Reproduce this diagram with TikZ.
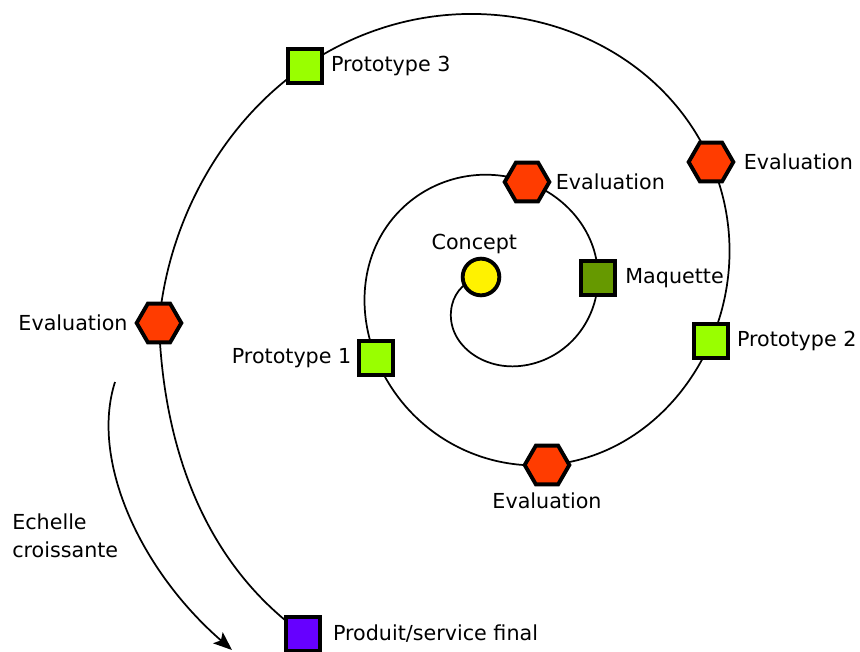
\documentclass[tikz,border=0pt]{standalone}
\usepackage{fontspec}
\setmainfont{DejaVu Sans}
\usetikzlibrary{hobby}
\usetikzlibrary{shapes.geometric}
\usetikzlibrary{arrows.meta}
\usetikzlibrary{positioning}
\usetikzlibrary{backgrounds}
\definecolor{evalred}{RGB}{255,60,0}
\definecolor{protogreen}{RGB}{153,255,0}
\definecolor{maqgreen}{RGB}{102,153,0}
\definecolor{finalpurple}{RGB}{102,0,255}
\tikzset{
  etape/.style={draw=black, line width=2.9pt},
  hexa/.style={etape, regular polygon, regular polygon sides=6, minimum size=33.5pt, inner sep=0pt, fill=evalred},
  carre/.style={etape, rectangle, minimum size=25.8pt, inner sep=0pt},
  txt/.style={inner sep=0pt, font=\fontsize{15.5}{21}\selectfont},
}

\begin{document}
\begin{tikzpicture}[x=0.75pt,y=-0.75pt]
        \useasboundingbox (0,0) rectangle (860,652);
        \node[etape, circle, minimum size=27.5pt, fill=yellow] (concept) at (481,277) {};
        \node[carre, fill=maqgreen] (maquette) at (598,278) {};
        \node[hexa] (eval1) at (527,182) {};
        \node[carre, fill=protogreen] (proto1) at (376,358) {};
        \node[hexa] (eval2) at (547,465) {};
        \node[carre, fill=protogreen] (proto2) at (711,341) {};
        \node[hexa] (eval3) at (711,162) {};
        \node[carre, fill=protogreen] (proto3) at (305,66) {};
        \node[hexa] (eval4) at (159,323) {};
        \node[carre, fill=finalpurple] (final) at (303,634) {};
        \node[txt, above=2pt of concept, xshift=-5pt] (concepttxt) {Concept};
        \node[txt, right=3pt of eval1] (eval1txt) {Evaluation};
        \node[txt, right=6pt of maquette] (maquettetxt) {Maquette};
        \node[txt, left=4pt of proto1] (proto1txt) {Prototype 1};
        \node[txt, below=5pt of eval2] (eval2txt) {Evaluation};
        \node[txt, right=5pt of proto2] (proto2txt) {Prototype 2};
        \node[txt, right=6pt of eval3] (eval3txt) {Evaluation};
        \node[txt, right=5pt of proto3] (proto3txt) {Prototype 3};
        \node[txt, left=5pt of eval4] (eval4txt) {Evaluation};
        \node[txt, right=8pt of final] (finaltxt) {Produit/service final};
        \node[txt, align=left, anchor=north west] (echelle) at (12,514) {Echelle\\croissante};
        % la spirale passe sous les etapes
        \begin{scope}[on background layer]
          \draw[line width=1.3pt, use Hobby shortcut] (concept.center) .. (452,305) .. (520,366) .. (maquette.center) .. (eval1.center) .. (390,222) .. (proto1.center) .. (eval2.center) .. (proto2.center) .. (eval3.center) .. (466,14) .. (proto3.center) .. (203,180) .. (eval4.center);
          \draw[line width=1.3pt] (eval4.center) .. controls (163,440) and (200,560) .. (final.center);
        \end{scope}
        \coordinate (echdebut) at (115,382);
        \coordinate (echfin) at (232,650);
        \draw[line width=1.3pt, -{Stealth[length=14pt, width=11pt, inset=3pt]}] (echdebut) .. controls (90,460) and (140,570) .. (echfin);
      \end{tikzpicture}
\end{document}
